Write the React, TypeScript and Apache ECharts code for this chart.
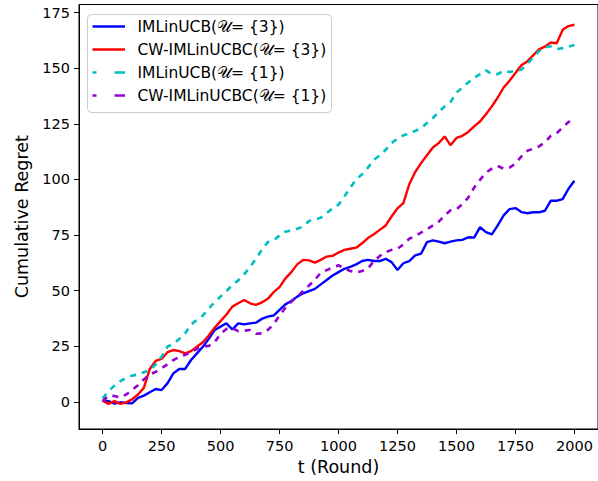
import React, { useEffect, useRef } from "react";
import * as echarts from "echarts";

const rounds = [
  0, 25, 50, 75, 100, 125, 150, 175, 200, 225, 250, 275, 300, 325, 350, 375, 400,
  425, 450, 475, 500, 525, 550, 575, 600, 625, 650, 675, 700, 725, 750, 775, 800,
  825, 850, 875, 900, 925, 950, 975, 1000, 1025, 1050, 1075, 1100, 1125, 1150,
  1175, 1200, 1225, 1250, 1275, 1300, 1325, 1350, 1375, 1400, 1425, 1450, 1475,
  1500, 1525, 1550, 1575, 1600, 1625, 1650, 1675, 1700, 1725, 1750, 1775, 1800,
  1825, 1850, 1875, 1900, 1925, 1950, 1975, 2000,
];

const imlinucb3 = [
  0.8, 0.3, -0.8, -0.2, -0.5, -0.7, 1.8, 2.8, 4.3, 5.8, 5.3, 8.3, 12.8, 14.8, 14.8,
  18.8, 21.8, 24.8, 28.3, 32.3, 33.8, 35.3, 32.5, 35.3, 34.8, 35.3, 35.6, 37.3,
  38.3, 38.8, 41.3, 43.8, 45.3, 47.3, 48.8, 49.8, 50.8, 52.8, 54.8, 56.8, 58.3,
  59.8, 60.7, 61.8, 63.3, 63.8, 63.3, 63.3, 64.3, 62.8, 59.3, 62.3, 63.3, 65.8,
  66.6, 71.8, 72.6, 72.0, 71.3, 72.0, 72.6, 72.8, 74.0, 73.8, 78.5, 76.3, 75.3,
  79.3, 83.8, 86.6, 87.1, 85.3, 84.8, 85.2, 85.2, 85.9, 90.4, 90.4, 91.1, 95.8, 99.4,
];

const cwimlinucbc3 = [
  0.5, -0.9, 0.3, -0.9, -0.2, 1.1, 3.3, 6.3, 14.8, 18.4, 19.3, 22.3, 23.3, 22.8,
  21.8, 22.8, 24.8, 26.8, 29.8, 33.3, 36.3, 39.3, 42.8, 44.3, 45.8, 44.3, 43.6,
  44.7, 46.3, 49.3, 51.6, 55.5, 58.3, 61.8, 63.8, 63.6, 62.6, 63.8, 65.3, 65.6,
  67.1, 68.3, 68.8, 69.3, 71.3, 73.6, 75.3, 77.3, 79.3, 83.3, 87.0, 89.3, 97.8,
  103.3, 107.3, 110.8, 114.3, 116.3, 119.3, 115.3, 118.6, 119.6, 121.3, 123.8,
  126.0, 129.3, 132.8, 136.8, 141.3, 144.3, 147.8, 151.3, 153.0, 155.7, 158.4,
  159.7, 161.5, 161.2, 167.2, 168.9, 169.5,
];

const imlinucb1 = [
  1.5, 4.8, 7.3, 9.3, 10.8, 11.8, 12.3, 13.3, 14.3, 16.8, 20.3, 24.8, 26.1, 28.3,
  30.8, 34.8, 36.8, 38.8, 42.0, 44.8, 47.3, 49.8, 52.5, 54.6, 57.3, 60.6, 64.3,
  68.3, 71.8, 72.5, 74.8, 76.5, 77.0, 77.8, 78.8, 81.3, 81.8, 82.8, 84.8, 87.0,
  88.6, 92.3, 96.3, 100.0, 102.3, 105.3, 108.8, 110.8, 113.3, 116.3, 118.3, 119.8,
  120.6, 121.8, 123.0, 125.3, 127.6, 130.3, 132.8, 134.8, 139.0, 141.3, 143.5,
  145.6, 147.3, 149.0, 147.3, 147.3, 148.8, 148.3, 148.8, 149.3, 151.8, 154.8,
  157.6, 159.3, 159.8, 158.6, 159.0, 159.6, 160.4,
];

const cwimlinucbc1 = [
  0.3, 2.8, 2.6, 2.0, 3.3, 5.3, 7.5, 10.1, 12.3, 13.5, 15.1, 16.9, 18.8, 20.2, 21.1,
  22.4, 23.8, 25.0, 25.1, 26.8, 30.6, 32.8, 33.2, 31.8, 32.0, 32.3, 30.6, 30.8,
  32.3, 34.8, 38.8, 42.3, 45.0, 47.3, 49.8, 52.3, 54.8, 58.1, 59.2, 60.4, 61.4,
  60.0, 58.8, 58.1, 58.8, 59.9, 63.3, 65.6, 67.3, 68.3, 68.8, 70.8, 73.3, 74.6,
  76.1, 77.6, 79.3, 81.0, 83.8, 86.1, 86.6, 88.8, 91.8, 96.3, 99.8, 103.0, 104.8,
  106.0, 104.8, 105.3, 107.1, 110.3, 112.8, 113.8, 114.8, 116.6, 119.6, 120.8,
  123.3, 125.8, 127.5,
];

const xTicks = [0, 250, 500, 750, 1000, 1250, 1500, 1750, 2000];
const yTicks = [0, 25, 50, 75, 100, 125, 150, 175];

const seriesNames = [
  "IMLinUCB(𝒰= {3})",
  "CW-IMLinUCBC(𝒰= {3})",
  "IMLinUCB(𝒰= {1})",
  "CW-IMLinUCBC(𝒰= {1})",
];
const seriesColors = ["#0000ff", "#ff0000", "#00bfbf", "#9400d3"];
const seriesValues = [imlinucb3, cwimlinucbc3, imlinucb1, cwimlinucbc1];
const seriesDashed = [false, false, true, true];

const FONT = "DejaVu Sans";

export default function App() {
  const ref = useRef<HTMLDivElement>(null);
  useEffect(() => {
    if (!ref.current) return;
    const chart = echarts.init(ref.current, null, { renderer: "svg" });

    const legendRowsY = [26.5, 49.5, 72.5, 95.5];
    const legendGraphics: any[] = [
      {
        type: "rect",
        shape: { x: 87.5, y: 14.5, width: 244, height: 98, r: 4 },
        style: { fill: "rgba(255,255,255,0.8)", stroke: "#cccccc", lineWidth: 1 },
        z: 100,
      },
    ];
    seriesNames.forEach((name, i) => {
      const y = legendRowsY[i];
      if (seriesDashed[i]) {
        legendGraphics.push({
          type: "line",
          shape: { x1: 92.5, y1: y, x2: 96.5, y2: y },
          style: { stroke: seriesColors[i], lineWidth: 2.5 },
          z: 101,
        });
        legendGraphics.push({
          type: "line",
          shape: { x1: 114.5, y1: y, x2: 125, y2: y },
          style: { stroke: seriesColors[i], lineWidth: 2.5 },
          z: 101,
        });
      } else {
        legendGraphics.push({
          type: "line",
          shape: { x1: 92.5, y1: y, x2: 125, y2: y },
          style: { stroke: seriesColors[i], lineWidth: 2.5 },
          z: 101,
        });
      }
      legendGraphics.push({
        type: "text",
        x: 137.5,
        y: y,
        style: {
          text: name,
          fill: "#000000",
          font: `15.5px "${FONT}"`,
          textVerticalAlign: "middle",
          verticalAlign: "middle",
        },
        z: 101,
      });
    });

    chart.setOption({
      animation: false,
      backgroundColor: "#ffffff",
      grid: {
        left: 79,
        top: 4.5,
        width: 522.75,
        height: 432.5,
        show: true,
        borderColor: "#000000",
        borderWidth: 1,
        containLabel: false,
      },
      xAxis: {
        type: "value",
        min: -100,
        max: 2100,
        name: "t (Round)",
        nameLocation: "middle",
        nameGap: 29,
        nameTextStyle: { fontFamily: FONT, fontSize: 17.5, color: "#000" },
        axisLine: { show: true, onZero: false, lineStyle: { color: "#000", width: 1 } },
        axisTick: {
          show: true,
          inside: false,
          length: 5,
          lineStyle: { color: "#000", width: 1 },
          customValues: xTicks,
        },
        axisLabel: {
          color: "#000",
          fontFamily: FONT,
          fontSize: 14.5,
          margin: 9,
          customValues: xTicks,
          formatter: (v: number) => String(v),
        },
        splitLine: { show: false },
      },
      yAxis: {
        type: "value",
        min: -12.2,
        max: 178.6,
        name: "Cumulative Regret",
        nameLocation: "middle",
        nameGap: 48,
        nameTextStyle: { fontFamily: FONT, fontSize: 17.5, color: "#000" },
        axisLine: { show: true, onZero: false, lineStyle: { color: "#000", width: 1 } },
        axisTick: {
          show: true,
          inside: false,
          length: 5,
          lineStyle: { color: "#000", width: 1 },
          customValues: yTicks,
        },
        axisLabel: {
          color: "#000",
          fontFamily: FONT,
          fontSize: 14.5,
          margin: 9,
          customValues: yTicks,
          formatter: (v: number) => String(v),
        },
        splitLine: { show: false },
      },
      series: seriesNames.map((name, i) => ({
        name,
        type: "line",
        symbol: "none",
        showSymbol: false,
        clip: true,
        data: rounds.map((t, j) => [t, seriesValues[i][j]]),
        lineStyle: {
          color: seriesColors[i],
          width: seriesDashed[i] ? 2.6 : 2.4,
          type: seriesDashed[i] ? [6, 6] : "solid",
        },
        itemStyle: { color: seriesColors[i] },
      })),
      graphic: legendGraphics,
    });

    return () => chart.dispose();
  }, []);

  return (
    <div
      ref={ref}
      style={{ position: "fixed", left: 0, top: 0, width: 598, height: 481 }}
    />
  );
}
